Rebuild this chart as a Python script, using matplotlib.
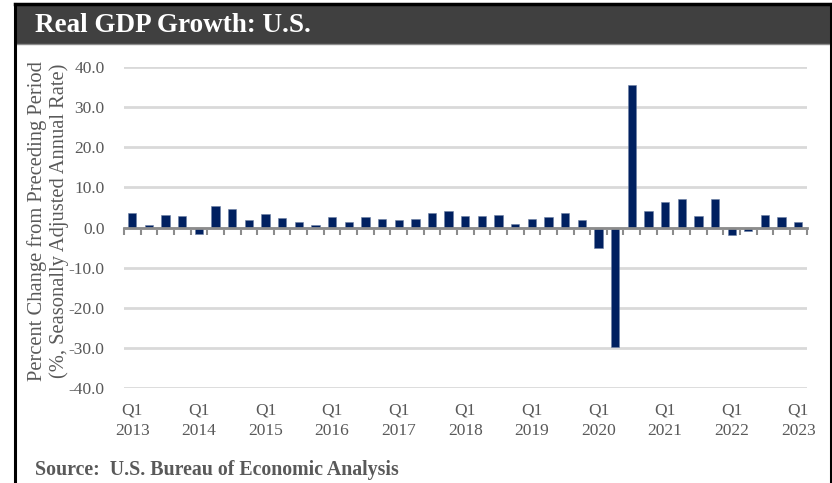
import matplotlib
matplotlib.use("Agg")
import matplotlib.pyplot as plt
from matplotlib.patches import Rectangle
from matplotlib.lines import Line2D
import numpy as np

# ---- data ----
years = list(range(2013, 2024))
quarters = [f"Q{q} {y}" for y in years for q in range(1, 5)][:41]
gdp_growth = [3.6, 0.7, 3.2, 2.9,
              -1.6, 5.3, 4.7, 1.8,
              3.3, 2.4, 1.3, 0.7,
              2.5, 1.3, 2.5, 2.1,
              1.8, 2.1, 3.5, 4.2,
              2.9, 2.9, 3.0, 0.8,
              2.2, 2.7, 3.7, 1.8,
              -5.0, -29.9, 35.4, 4.0,
              6.4, 7.1, 2.8, 7.0,
              -1.9, -0.8, 3.2, 2.6,
              1.3]
tick_labels = [f"Q1\n{y}" for y in years]
y_ticks = [40, 30, 20, 10, 0, -10, -20, -30, -40]

title = "Real GDP Growth: U.S."
ylabel = "Percent Change from Preceding Period\n(%, Seasonally Adjusted Annual Rate)"
source = "Source:  U.S. Bureau of Economic Analysis"

SERIF = ["Liberation Serif", "DejaVu Serif"]
GRAY_TXT = "#595959"

W, H = 832, 483
fig = plt.figure(figsize=(W / 100, H / 100), dpi=100)
fig.patch.set_facecolor("white")

# header bar and frame
fig.add_artist(Rectangle((15 / W, (H - 44) / H), (831 - 15) / W, 40 / H,
                         transform=fig.transFigure, facecolor="#404040",
                         edgecolor="none", zorder=1))
fig.add_artist(Line2D([15 / W, 15 / W], [0, (H - 4) / H], transform=fig.transFigure,
                      color="black", lw=2.2, zorder=3))
fig.add_artist(Line2D([831 / W, 831 / W], [0, (H - 4) / H], transform=fig.transFigure,
                      color="black", lw=2.2, zorder=3))
fig.add_artist(Line2D([15 / W, 831 / W], [(H - 4) / H, (H - 4) / H], transform=fig.transFigure,
                      color="black", lw=2.5, zorder=3))
fig.add_artist(Line2D([15 / W, 831 / W], [(H - 44) / H, (H - 44) / H], transform=fig.transFigure,
                      color="#8c8c8c", lw=1.0, zorder=2))
fig.text(35 / W, (H - 25) / H, title, color="white", fontsize=19.5, fontweight="bold",
         family=SERIF, va="center", ha="left")

# axes
ax_left, ax_right = 124 / W, 806.6 / W
ax_bottom, ax_top = (H - 388) / H, (H - 67) / H
ax = fig.add_axes([ax_left, ax_bottom, ax_right - ax_left, ax_top - ax_bottom])
x = np.arange(len(gdp_growth))
ax.bar(x, gdp_growth, width=0.5, color="#002060", edgecolor="#6d7fa3",
       linewidth=0.4, zorder=3)
ax.set_xlim(-0.5, len(gdp_growth) - 0.5)
ax.set_ylim(-40, 40)
ax.set_yticks(y_ticks)
ax.set_yticklabels([f"{v:.1f}" for v in y_ticks], family=SERIF, fontsize=12.5,
                   color=GRAY_TXT)
ax.tick_params(axis="y", length=0, pad=14)
ax.yaxis.grid(True, color="#d9d9d9", lw=2, zorder=0)
ax.set_axisbelow(True)
for s in ["top", "right", "left"]:
    ax.spines[s].set_visible(False)
ax.spines["bottom"].set_position(("data", 0))
ax.spines["bottom"].set_color("#8c8c8c")
ax.spines["bottom"].set_linewidth(2)
ax.spines["bottom"].set_zorder(4)
ax.set_xticks(np.arange(len(gdp_growth) + 1) - 0.5)
ax.set_xticklabels([])
ax.tick_params(axis="x", direction="out", length=5, width=1.5, color="#8c8c8c")

tr = ax.get_xaxis_transform()
for i, lab in enumerate(tick_labels):
    ax.text(i * 4, -0.045, lab, transform=tr, ha="center", va="top",
            family=SERIF, fontsize=12.5, color=GRAY_TXT, linespacing=1.4)

fig.text(48 / W, (H - 221) / H, ylabel, rotation=90, ha="center", va="center",
         multialignment="center", family=SERIF, fontsize=14.8, color=GRAY_TXT,
         linespacing=1.1)
fig.text(35 / W, (H - 470) / H, source, ha="left", va="center", family=SERIF,
         fontsize=14.3, fontweight="bold", color=GRAY_TXT)

fig.savefig("out.png", dpi=100)
